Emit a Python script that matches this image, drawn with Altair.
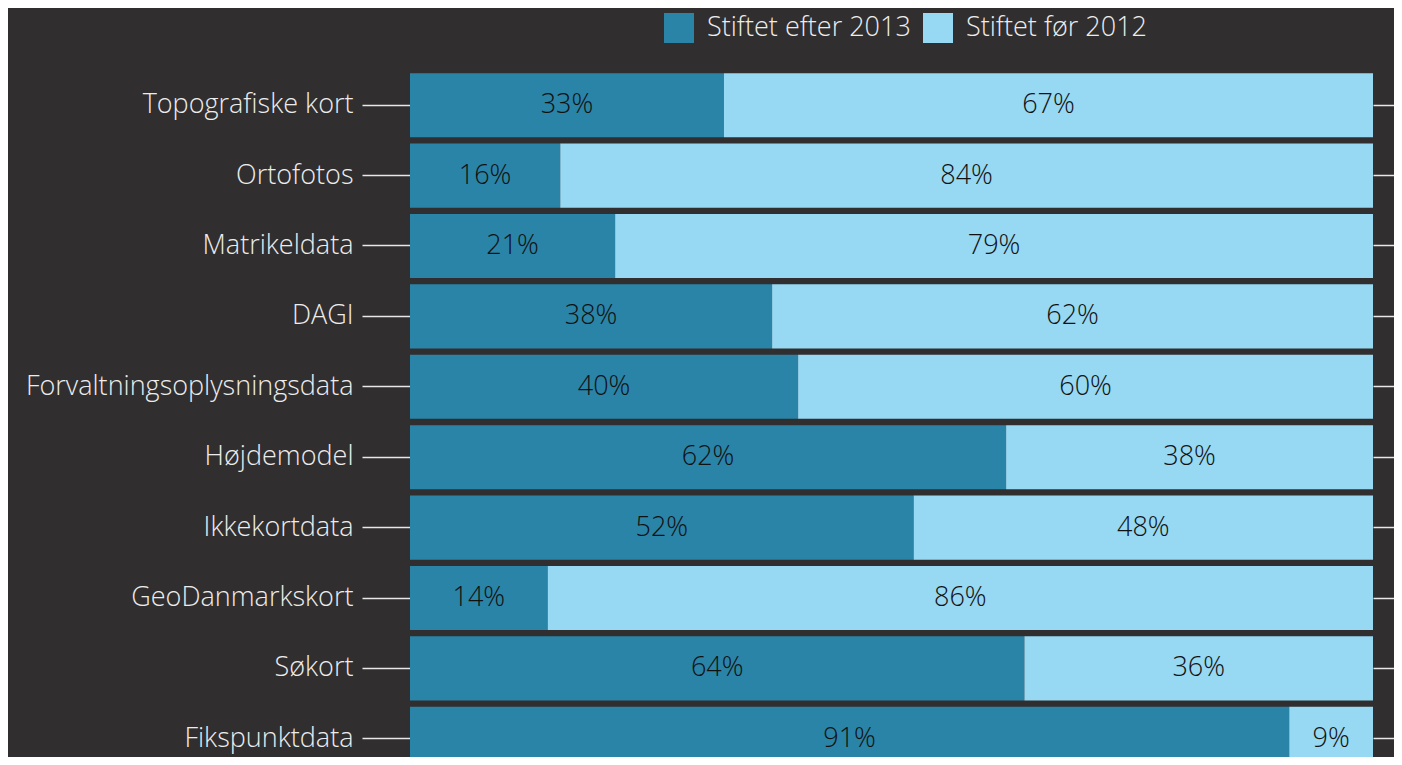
import altair as alt
import pandas as pd

categories = ["Topografiske kort", "Ortofotos", "Matrikeldata", "DAGI",
              "Forvaltningsoplysningsdata", "Højdemodel", "Ikkekortdata",
              "GeoDanmarkskort", "Søkort", "Fikspunktdata"]
after_2013 = [32.6, 15.6, 21.3, 37.6, 40.3, 61.9, 52.3, 14.3, 63.8, 91.3]
before_2012 = [67.4, 84.4, 78.7, 62.4, 59.7, 38.1, 47.7, 85.7, 36.2, 8.7]
series = ["Stiftet efter 2013", "Stiftet før 2012"]
colors = ["#2a84a7", "#97d8f2"]

rows = []
for c, a, b in zip(categories, after_2013, before_2012):
    rows.append({"cat": c, "series": series[0], "value": a, "start": 0, "end": a, "ord": 0})
    rows.append({"cat": c, "series": series[1], "value": b, "start": a, "end": a + b, "ord": 1})
df = pd.DataFrame(rows)
df["mid"] = (df["start"] + df["end"]) / 2
df["label"] = df["value"].round().astype(int).astype(str) + "%"

FONT = "Open Sans"
BG = "#302e2f"
FS = 27

yscale = alt.Scale(domain=categories, paddingInner=0.09, paddingOuter=0.045)
xscale = alt.Scale(domain=[0, 100], nice=False, zero=True)

base = alt.Chart(df)

bars = base.mark_bar(cornerRadius=0).encode(
    x=alt.X("start:Q", scale=xscale, axis=None),
    x2="end:Q",
    y=alt.Y("cat:N", scale=yscale, sort=categories,
            axis=alt.Axis(orient="left", title=None, domain=False, tickSize=48,
                          tickColor="#e8e8e8", tickWidth=1.5, labelPadding=9,
                          labelFontSize=FS, labelColor="#ececec", labelFont=FONT,
                          labelFontWeight=300, labelLimit=1000)),
    color=alt.Color("series:N", scale=alt.Scale(domain=series, range=colors),
                    legend=alt.Legend(orient="none", legendX=254, legendY=-57,
                                      direction="horizontal", title=None,
                                      symbolType="square", symbolSize=900,
                                      symbolStrokeWidth=0, symbolOpacity=1,
                                      labelFontSize=FS, labelColor="#ececec",
                                      labelFont=FONT, labelFontWeight=300,
                                      labelLimit=1000,
                                      labelOffset=13, columnPadding=12, padding=0)),
    order=alt.Order("ord:Q"),
)

labels = base.mark_text(fontSize=FS, font=FONT, fontWeight=300, color="#111111",
                        baseline="middle", align="center").encode(
    x=alt.X("mid:Q", scale=xscale, axis=None),
    y=alt.Y("cat:N", scale=yscale, sort=categories,
            axis=alt.Axis(orient="right", title=None, domain=False, labels=False,
                          tickSize=48, tickColor="#e8e8e8", tickWidth=1.5)),
    text="label:N",
)

chart = alt.layer(bars, labels).resolve_axis(y="independent").properties(
    width=963, height=704,
    background=BG,
    autosize=alt.AutoSizeParams(type="none"),
    padding={"left": 402, "top": 62, "right": 21, "bottom": -17},
).configure_view(stroke=None)

chart.save("out.html", embed_options={"renderer": "svg", "actions": False})
